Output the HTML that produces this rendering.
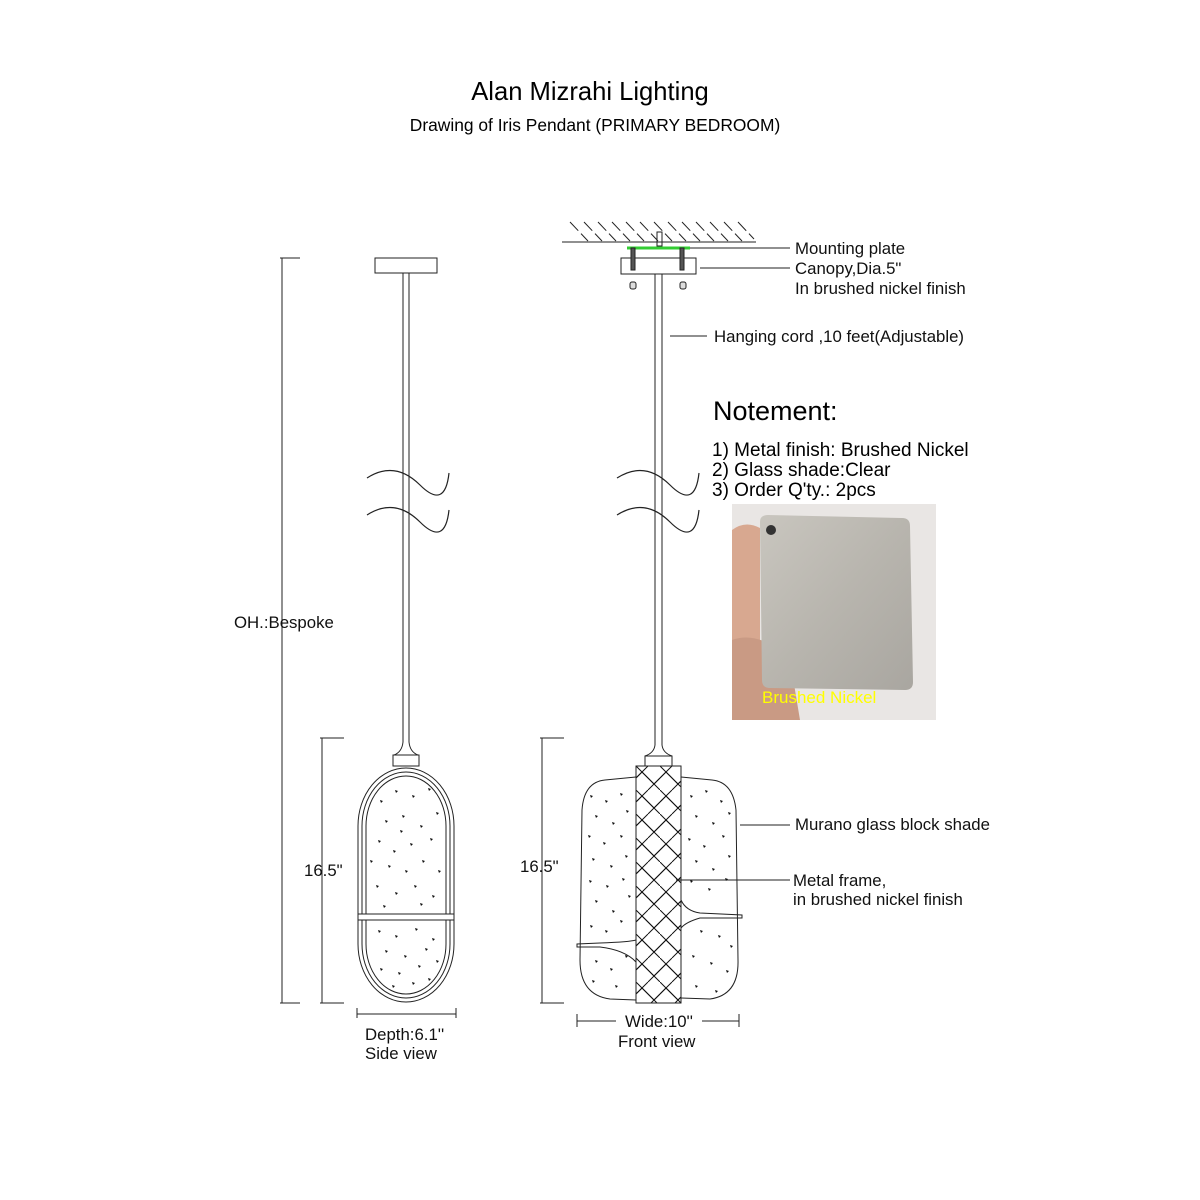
<!DOCTYPE html>
<html><head><meta charset="utf-8"><style>
body{margin:0;background:#fff;}
svg{display:block;font-family:"Liberation Sans",sans-serif;}
</style></head><body>
<svg width="1200" height="1200" viewBox="0 0 1200 1200" xmlns="http://www.w3.org/2000/svg">
<defs>
<pattern id="hb" width="24" height="24" patternUnits="userSpaceOnUse" x="636" y="766">
<path d="M0 12 L12 0 M12 24 L24 12 M0 0 L12 12 M12 12 L24 24 M6 6 L0 12 M18 18 L12 24" stroke="#111" stroke-width="1" fill="none"/>
<path d="M-6 18 L6 6 L18 18 L30 6" stroke="#111" stroke-width="1" fill="none"/>
</pattern>
<linearGradient id="met" x1="0" y1="0" x2="1" y2="1"><stop offset="0" stop-color="#c9c6bf"/><stop offset="0.5" stop-color="#b8b5ae"/><stop offset="1" stop-color="#a9a6a0"/></linearGradient>
</defs>
<rect width="1200" height="1200" fill="#fff"/>
<text x="590" y="100" font-size="25.6" text-anchor="middle">Alan Mizrahi Lighting</text>
<text x="595" y="131" font-size="17.4" text-anchor="middle">Drawing of Iris Pendant (PRIMARY BEDROOM)</text>

<g stroke="#222" stroke-width="1" fill="none">
<line x1="282" y1="258" x2="282" y2="1003"/><line x1="280" y1="258" x2="300" y2="258"/><line x1="280" y1="1003" x2="300" y2="1003"/>
<line x1="322" y1="738" x2="322" y2="1003"/><line x1="320" y1="738" x2="344" y2="738"/><line x1="320" y1="1003" x2="344" y2="1003"/>
<line x1="357" y1="1014" x2="456" y2="1014"/><line x1="357" y1="1008" x2="357" y2="1018"/><line x1="456" y1="1008" x2="456" y2="1018"/>
<rect x="375" y="258" width="62" height="15"/>
<line x1="403" y1="273" x2="403" y2="742"/><line x1="409" y1="273" x2="409" y2="742"/>
<path d="M403 742 Q402 752 394 755 M409 742 Q410 752 418 755"/>
<rect x="393" y="755" width="26" height="11"/>
<rect x="358" y="768" width="96" height="234" rx="48" ry="58"/>
<rect x="362" y="772" width="88" height="226" rx="44" ry="54"/>
<rect x="366" y="776" width="80" height="218" rx="40" ry="50"/>
<rect x="358" y="914" width="96" height="6" fill="#fff"/>
<path d="M367 478 Q395 460 420 485 T449 473" stroke-width="1.2"/>
<path d="M367 515 Q395 497 420 522 T449 510" stroke-width="1.2"/>
<line x1="542" y1="738" x2="542" y2="1003"/><line x1="540" y1="738" x2="564" y2="738"/><line x1="540" y1="1003" x2="564" y2="1003"/>
<line x1="577" y1="1021" x2="616" y2="1021"/><line x1="702" y1="1021" x2="739" y2="1021"/><line x1="577" y1="1014" x2="577" y2="1027"/><line x1="739" y1="1014" x2="739" y2="1027"/>
<line x1="562" y1="242" x2="756" y2="242"/>
<g stroke-dasharray="12 4">
<path d="M570 222l18 19M584 222l18 19M598 222l18 19M612 222l18 19M626 222l18 19M640 222l18 19M654 222l18 19M668 222l18 19M682 222l18 19M696 222l18 19M710 222l18 19M724 222l18 19M738 222l16 17"/>
</g>
<line x1="627" y1="248" x2="690" y2="248" stroke="#3c3" stroke-width="3"/>
<rect x="657" y="232" width="5" height="14"/>
<rect x="621" y="258" width="75" height="16"/>
<rect x="631" y="248" width="4" height="22" fill="#555"/><rect x="680" y="248" width="4" height="22" fill="#555"/>
<rect x="630" y="282" width="6" height="7" rx="2" fill="#ddd"/><rect x="680" y="282" width="6" height="7" rx="2" fill="#ddd"/>
<line x1="655" y1="274" x2="655" y2="745"/><line x1="662" y1="274" x2="662" y2="745"/>
<path d="M655 745 Q654 753 645 756 M662 745 Q663 753 672 756"/>
<rect x="645" y="756" width="27" height="10"/>
<path d="M636 777 L605 780 Q584 782 582 810 L580 960 Q580 995 610 999 L636 1000"/>
<path d="M681 777 L712 780 Q733 782 736 810 L738 960 Q739 995 710 999 L681 998"/>
<path d="M636 940 Q630 942 600 943 L577 944 L577 947 L600 947 Q625 950 636 962"/>
<path d="M681 900 Q686 911 700 913 L742 915 L742 918 L700 918 Q686 922 681 928"/>
<rect x="636" y="766" width="45" height="237" fill="url(#hb)"/>
<line x1="690" y1="248" x2="790" y2="248"/><line x1="700" y1="268" x2="790" y2="268"/>
<line x1="670" y1="336" x2="707" y2="336"/>
<line x1="740" y1="825" x2="790" y2="825"/><line x1="676" y1="880" x2="790" y2="880"/>
<path d="M617 478 Q645 460 670 485 T699 473" stroke-width="1.2"/>
<path d="M617 515 Q645 497 670 522 T699 510" stroke-width="1.2"/>
</g>
<path fill="#111" d="M380 800l3 1l-2 2zM395 790l3 1l-2 2zM412 795l3 1l-2 2zM428 788l3 1l-2 2zM385 820l3 1l-2 2zM402 815l3 1l-2 2zM420 825l3 1l-2 2zM436 812l3 1l-2 2zM378 840l3 1l-2 2zM393 850l3 1l-2 2zM410 843l3 1l-2 2zM430 838l3 1l-2 2zM388 865l3 1l-2 2zM405 870l3 1l-2 2zM422 860l3 1l-2 2zM438 870l3 1l-2 2zM376 885l3 1l-2 2zM395 892l3 1l-2 2zM414 885l3 1l-2 2zM432 895l3 1l-2 2zM383 905l3 1l-2 2zM420 903l3 1l-2 2zM400 830l3 1l-2 2zM370 860l3 1l-2 2zM378 930l3 1l-2 2zM395 935l3 1l-2 2zM415 928l3 1l-2 2zM432 938l3 1l-2 2zM385 950l3 1l-2 2zM404 955l3 1l-2 2zM425 948l3 1l-2 2zM380 968l3 1l-2 2zM398 972l3 1l-2 2zM418 965l3 1l-2 2zM436 960l3 1l-2 2zM392 985l3 1l-2 2zM412 982l3 1l-2 2zM428 978l3 1l-2 2zM590 795l3 1l-2 2zM605 800l3 1l-2 2zM620 793l3 1l-2 2zM595 815l3 1l-2 2zM612 822l3 1l-2 2zM626 810l3 1l-2 2zM588 835l3 1l-2 2zM603 842l3 1l-2 2zM620 835l3 1l-2 2zM592 858l3 1l-2 2zM610 865l3 1l-2 2zM625 855l3 1l-2 2zM589 880l3 1l-2 2zM606 885l3 1l-2 2zM622 878l3 1l-2 2zM595 900l3 1l-2 2zM612 910l3 1l-2 2zM628 895l3 1l-2 2zM590 925l3 1l-2 2zM605 930l3 1l-2 2zM620 920l3 1l-2 2zM595 960l3 1l-2 2zM610 968l3 1l-2 2zM625 955l3 1l-2 2zM592 980l3 1l-2 2zM615 985l3 1l-2 2zM690 795l3 1l-2 2zM705 790l3 1l-2 2zM720 800l3 1l-2 2zM695 815l3 1l-2 2zM712 822l3 1l-2 2zM728 812l3 1l-2 2zM688 838l3 1l-2 2zM703 845l3 1l-2 2zM722 835l3 1l-2 2zM695 860l3 1l-2 2zM712 868l3 1l-2 2zM728 855l3 1l-2 2zM690 880l3 1l-2 2zM708 888l3 1l-2 2zM725 878l3 1l-2 2zM700 930l3 1l-2 2zM718 935l3 1l-2 2zM730 945l3 1l-2 2zM692 955l3 1l-2 2zM710 962l3 1l-2 2zM726 970l3 1l-2 2zM695 985l3 1l-2 2zM715 990l3 1l-2 2z"/>
<g font-size="16.8" fill="#111">
<text x="234" y="628">OH.:Bespoke</text>
<text x="304" y="876">16.5"</text>
<text x="520" y="872">16.5"</text>
<text x="365" y="1040">Depth:6.1''</text>
<text x="365" y="1059">Side view</text>
<text x="625" y="1027">Wide:10''</text>
<text x="618" y="1047">Front view</text>
<text x="795" y="254">Mounting plate</text>
<text x="795" y="274">Canopy,Dia.5"</text>
<text x="795" y="294">In brushed nickel finish</text>
<text x="714" y="342">Hanging cord ,10 feet(Adjustable)</text>
<text x="795" y="830">Murano glass block shade</text>
<text x="793" y="886">Metal frame,</text>
<text x="793" y="905">in brushed nickel finish</text>
</g>
<text x="713" y="420" font-size="27">Notement:</text>
<g font-size="19">
<text x="712" y="456">1) Metal finish: Brushed Nickel</text>
<text x="712" y="476">2) Glass shade:Clear</text>
<text x="712" y="496">3) Order Q'ty.: 2pcs</text>
</g>
<rect x="732" y="504" width="204" height="216" fill="#e9e6e4"/>
<path d="M732 530 Q745 520 760 528 L760 720 L732 720 Z" fill="#d8a890"/>
<path d="M732 640 Q760 630 790 660 L800 720 L732 720 Z" fill="#c99a84"/>
<path d="M760 522 Q760 515 768 515 L902 518 Q910 518 910 526 L913 682 Q913 690 905 690 L770 688 Q762 688 762 680 Z" fill="url(#met)"/>
<circle cx="771" cy="530" r="5" fill="#333"/>
<text x="762" y="703" font-size="17" fill="#ff0">Brushed Nickel</text>
</svg>
</body></html>
